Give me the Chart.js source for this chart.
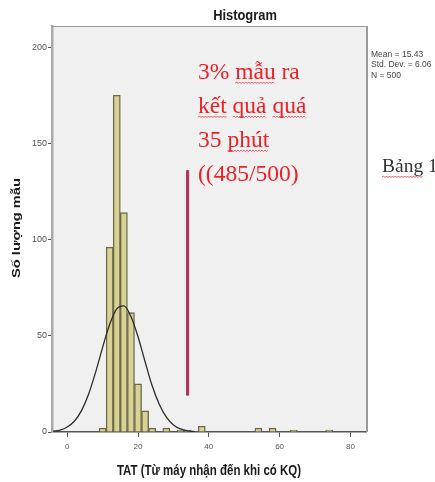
<!DOCTYPE html>
<html>
<head>
<meta charset="utf-8">
<script src="https://cdn.jsdelivr.net/npm/chart.js@4"></script>
<style>
  body { margin: 0; background: #fff; }
  canvas { display: block; }
</style>
</head>
<body>
<canvas id="chart" width="435" height="482"></canvas>
<script>
// histogram bins (centre of each 2-minute bin) and counts
const binCenters = [10, 12, 14, 16, 18, 20, 22, 24, 28, 32, 34, 38, 54, 58, 64, 74];
const binCounts = [2, 96, 175, 114, 62, 25, 11, 2, 2, 1, 1, 3, 2, 2, 1, 1];

// normal curve
const curveX = [-4, -2, 0, 2, 4, 6, 8, 10, 12, 14, 16, 18, 20, 22, 24, 26, 28, 30, 32, 34, 36];
const curveY = [0.4, 1, 2.6, 5.6, 11, 19.5, 31, 44, 56, 64, 65.5, 60, 49.5, 36.5, 24, 14.4, 7.7, 3.7, 1.6, 0.6, 0.2];

const xTicks = [0, 20, 40, 60, 80];
const yTicks = [0, 50, 100, 150, 200];

const statsLines = ['Mean = 15.43', 'Std. Dev. = 6.06', 'N = 500'];

// red note, words flagged by the spell checker get a squiggle
const noteLines = [
    [['3%', false], ['mẫu', true], ['ra', false]],
    [['kết', true], ['quả', true], ['quá', true]],
    [['35', false], ['phút', true]],
    [['((485/500)', false]]
];

// arrow at 34 minutes
const arrowX = 34;
const arrowTop = 136;
const arrowBottom = 19;

const sans = '"Liberation Sans", Arial, sans-serif';
const serif = '"Liberation Serif", "Times New Roman", serif';

function squiggle(ctx, x1, x2, y) {
    ctx.save();
    ctx.strokeStyle = '#e8303a';
    ctx.lineWidth = 0.8;
    ctx.beginPath();
    let up = true;
    ctx.moveTo(x1, y);
    for (let x = x1 + 1.5; x <= x2; x += 1.5) {
        ctx.lineTo(x, up ? y - 1 : y + 0.5);
        up = !up;
    }
    ctx.stroke();
    ctx.restore();
}

function stretchText(ctx, text, x, y, sx, sy, rot) {
    ctx.save();
    ctx.translate(x, y);
    if (rot) ctx.rotate(rot);
    ctx.scale(sx, sy);
    ctx.fillText(text, 0, 0);
    ctx.restore();
}

const decorPlugin = {
    id: 'decor',
    beforeDraw(chart) {
        const { ctx, chartArea: a } = chart;
        ctx.save();
        ctx.fillStyle = '#ffffff';
        ctx.fillRect(0, 0, chart.width, chart.height);
        ctx.fillStyle = '#f0f0f0';
        ctx.fillRect(a.left, a.top, a.right - a.left, a.bottom - a.top);
        ctx.restore();
    },
    afterDraw(chart) {
        const { ctx, chartArea: a } = chart;
        const xs = chart.scales.x;
        const ys = chart.scales.y;
        ctx.save();

        // frame top and right
        ctx.strokeStyle = '#9a9a9a';
        ctx.lineWidth = 1;
        ctx.beginPath();
        ctx.moveTo(a.left, a.top + 0.5);
        ctx.lineTo(a.right, a.top + 0.5);
        ctx.stroke();
        ctx.lineWidth = 2;
        ctx.beginPath();
        ctx.moveTo(a.right + 1, a.top);
        ctx.lineTo(a.right + 1, a.bottom);
        ctx.stroke();

        // the arrow
        const ax = xs.getPixelForValue(arrowX);
        ctx.strokeStyle = '#6d5a86';
        ctx.lineWidth = 3.2;
        ctx.beginPath();
        ctx.moveTo(ax, ys.getPixelForValue(arrowTop));
        ctx.lineTo(ax, ys.getPixelForValue(arrowBottom));
        ctx.stroke();
        ctx.strokeStyle = '#d3254a';
        ctx.lineWidth = 2;
        ctx.stroke();

        // titles
        ctx.fillStyle = '#1a1a1a';
        ctx.textAlign = 'center';
        ctx.textBaseline = 'alphabetic';
        ctx.font = 'bold 12.9px ' + sans;
        stretchText(ctx, 'Histogram', 245, 19.5, 1, 1.1);
        ctx.font = 'bold 11.5px ' + sans;
        stretchText(ctx, 'TAT (Từ máy nhận đến khi có KQ)', (a.left + a.right) / 2, 475, 1, 1.27);
        ctx.font = 'bold 11px ' + sans;
        ctx.textBaseline = 'middle';
        stretchText(ctx, 'Số lượng mẫu', 17, 228, 1.33, 1, -Math.PI / 2);

        // stats box
        ctx.textAlign = 'left';
        ctx.textBaseline = 'alphabetic';
        ctx.fillStyle = '#444444';
        ctx.font = '8.5px ' + sans;
        statsLines.forEach((t, i) => ctx.fillText(t, 371, 56.5 + i * 10.6));

        // red note
        ctx.font = '23.5px ' + serif;
        ctx.fillStyle = '#f01e26';
        const space = ctx.measureText(' ').width;
        noteLines.forEach((line, i) => {
            let x = 198;
            const y = 79 + i * 34;
            line.forEach(([word, flagged]) => {
                const w = ctx.measureText(word).width;
                ctx.fillText(word, x, y);
                if (flagged) squiggle(ctx, x, x + w, y + 4);
                x += w + space;
            });
        });

        // cut-off caption on the right
        ctx.font = '19.5px ' + serif;
        ctx.fillStyle = '#333333';
        ctx.fillText('Bảng 1', 382, 172);
        squiggle(ctx, 382, 382 + ctx.measureText('Bảng').width, 177);

        ctx.restore();
    }
};

const ctx = document.getElementById('chart').getContext('2d');
new Chart(ctx, {
    type: 'bar',
    data: {
        datasets: [{
            type: 'line',
            data: curveX.map((x, i) => ({ x: x, y: curveY[i] })),
            borderColor: '#2b2b2b',
            borderWidth: 1.3,
            pointRadius: 0,
            cubicInterpolationMode: 'monotone',
            fill: false
        }, {
            data: binCenters.map((x, i) => ({ x: x, y: binCounts[i] })),
            backgroundColor: '#d8d296',
            borderColor: '#6c6947',
            borderWidth: 1.4,
            barPercentage: 1,
            categoryPercentage: 1
        }]
    },
    options: {
        responsive: false,
        animation: false,
        layout: {
            padding: { top: 26, right: 69, left: 0, bottom: 0 }
        },
        plugins: {
            legend: { display: false },
            tooltip: { enabled: false },
            title: { display: false }
        },
        scales: {
            x: {
                type: 'linear',
                min: -4.3,
                max: 84.4,
                offset: false,
                afterFit: s => { s.height = 50; },
                afterBuildTicks: s => { s.ticks = xTicks.map(v => ({ value: v })); },
                grid: {
                    offset: false,
                    drawOnChartArea: false,
                    drawTicks: true,
                    tickLength: 5,
                    tickColor: '#555'
                },
                border: { color: '#555', width: 1.5 },
                ticks: {
                    padding: 5,
                    color: '#555',
                    font: { family: sans, size: 8 },
                    maxRotation: 0
                }
            },
            y: {
                min: 0,
                max: 211,
                afterFit: s => { s.width = 52; },
                afterBuildTicks: s => { s.ticks = yTicks.map(v => ({ value: v })); },
                grid: {
                    drawOnChartArea: false,
                    drawTicks: true,
                    tickLength: 4,
                    tickColor: '#555'
                },
                border: { color: '#aaaaaa', width: 2.5 },
                ticks: {
                    padding: 1,
                    color: '#555',
                    font: { family: sans, size: 9 }
                }
            }
        }
    },
    plugins: [decorPlugin]
});
</script>
</body>
</html>
